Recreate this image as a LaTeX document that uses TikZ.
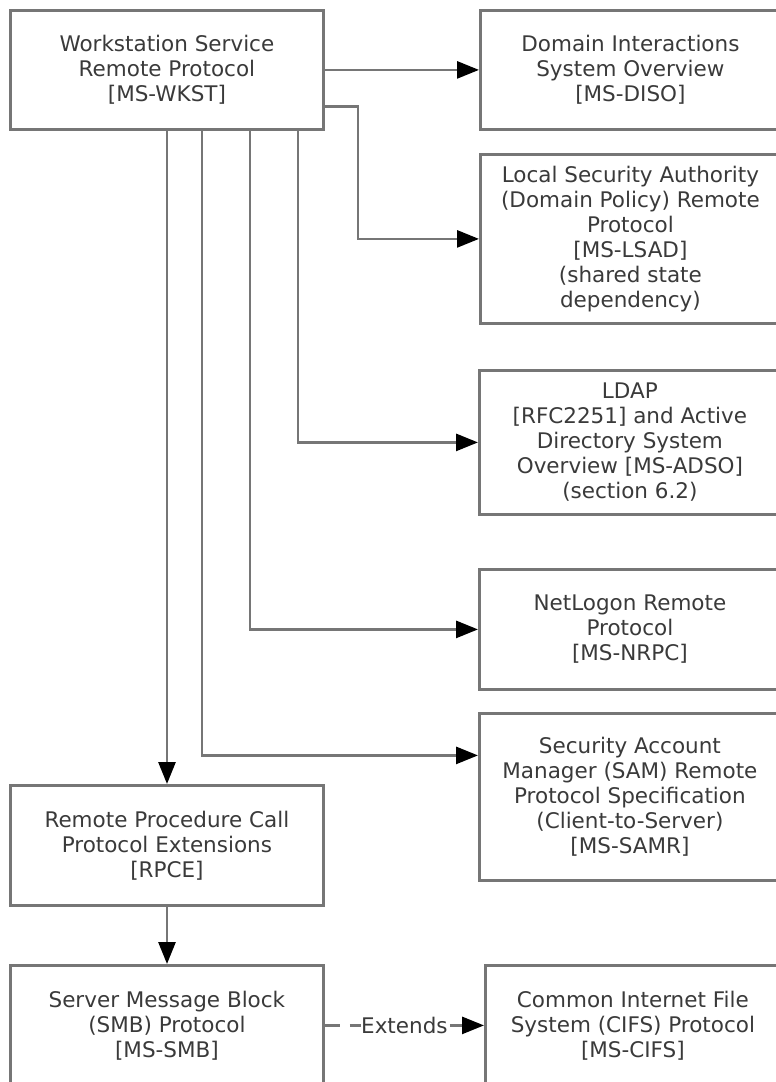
\documentclass[tikz,border=0pt]{standalone}
\usepackage{fontspec}
\setmainfont{DejaVu Sans}
\usetikzlibrary{arrows.meta}
\definecolor{linegray}{RGB}{118,118,118}
\definecolor{textgray}{RGB}{58,58,58}
\begin{document}
\begin{tikzpicture}[x=1pt,y=-1pt,
  box/.style={draw=linegray, line width=2.8pt, rectangle, inner sep=0pt, anchor=north west,
    align=center, text=textgray, font=\fontsize{21.5}{25}\selectfont},
  conn/.style={draw=linegray, line width=2.8pt,
    -{Triangle[length=22pt,width=17pt,color=black,fill=black]}},
  lbl/.style={fill=white, inner sep=0.5pt, text=textgray, font=\fontsize{21.5}{25}\selectfont}
]
\clip (0,0) rectangle (776,1082);
\fill[white] (0,0) rectangle (776,1082);

\node[box, minimum width=313pt, minimum height=119pt] (wkst) at (9,9)
  {Workstation Service\\Remote Protocol\\{[MS-WKST]}};
\node[box, minimum width=300pt, minimum height=119pt] (diso) at (479,9)
  {Domain Interactions\\System Overview\\{[MS-DISO]}};
\node[box, minimum width=300pt, minimum height=169pt] (lsad) at (479,153)
  {Local Security Authority\\(Domain Policy) Remote\\Protocol\\{[MS-LSAD]}\\(shared state\\dependency)};
\node[box, minimum width=301pt, minimum height=144pt] (ldap) at (478,369)
  {LDAP\\{[RFC2251]} and Active\\Directory System\\Overview [MS-ADSO]\\(section 6.2)};
\node[box, minimum width=301pt, minimum height=120pt] (nrpc) at (478,568)
  {NetLogon Remote\\Protocol\\{[MS-NRPC]}};
\node[box, minimum width=301pt, minimum height=167pt] (samr) at (478,712)
  {Security Account\\Manager (SAM) Remote\\Protocol Specification\\(Client-to-Server)\\{[MS-SAMR]}};
\node[box, minimum width=313pt, minimum height=120pt] (rpce) at (9,784)
  {Remote Procedure Call\\Protocol Extensions\\{[RPCE]}};
\node[box, minimum width=313pt, minimum height=120pt] (smb) at (9,964)
  {Server Message Block\\(SMB) Protocol\\{[MS-SMB]}};
\node[box, minimum width=295pt, minimum height=120pt] (cifs) at (484,964)
  {Common Internet File\\System (CIFS) Protocol\\{[MS-CIFS]}};

\draw[conn] (wkst.east) -- (diso.west);
\draw[conn] ([yshift=-36.5pt]wkst.east) -| ([xshift=-121pt]lsad.west) -- (lsad.west);
\draw[conn] ([xshift=289pt]wkst.south west) |- (ldap.west);
\draw[conn] ([xshift=241pt]wkst.south west) |- (nrpc.west);
\draw[conn] ([xshift=193pt]wkst.south west) |- ([yshift=41.5pt]samr.west);
\draw[conn] ([xshift=158pt]wkst.south west) -- ([xshift=158pt]rpce.north west);
\draw[conn] ([xshift=158pt]rpce.south west) -- ([xshift=158pt]smb.north west);
\draw[conn, dash pattern=on 15pt off 10pt] (smb.east) -- node[lbl] {Extends} (cifs.west);
\end{tikzpicture}
\end{document}
